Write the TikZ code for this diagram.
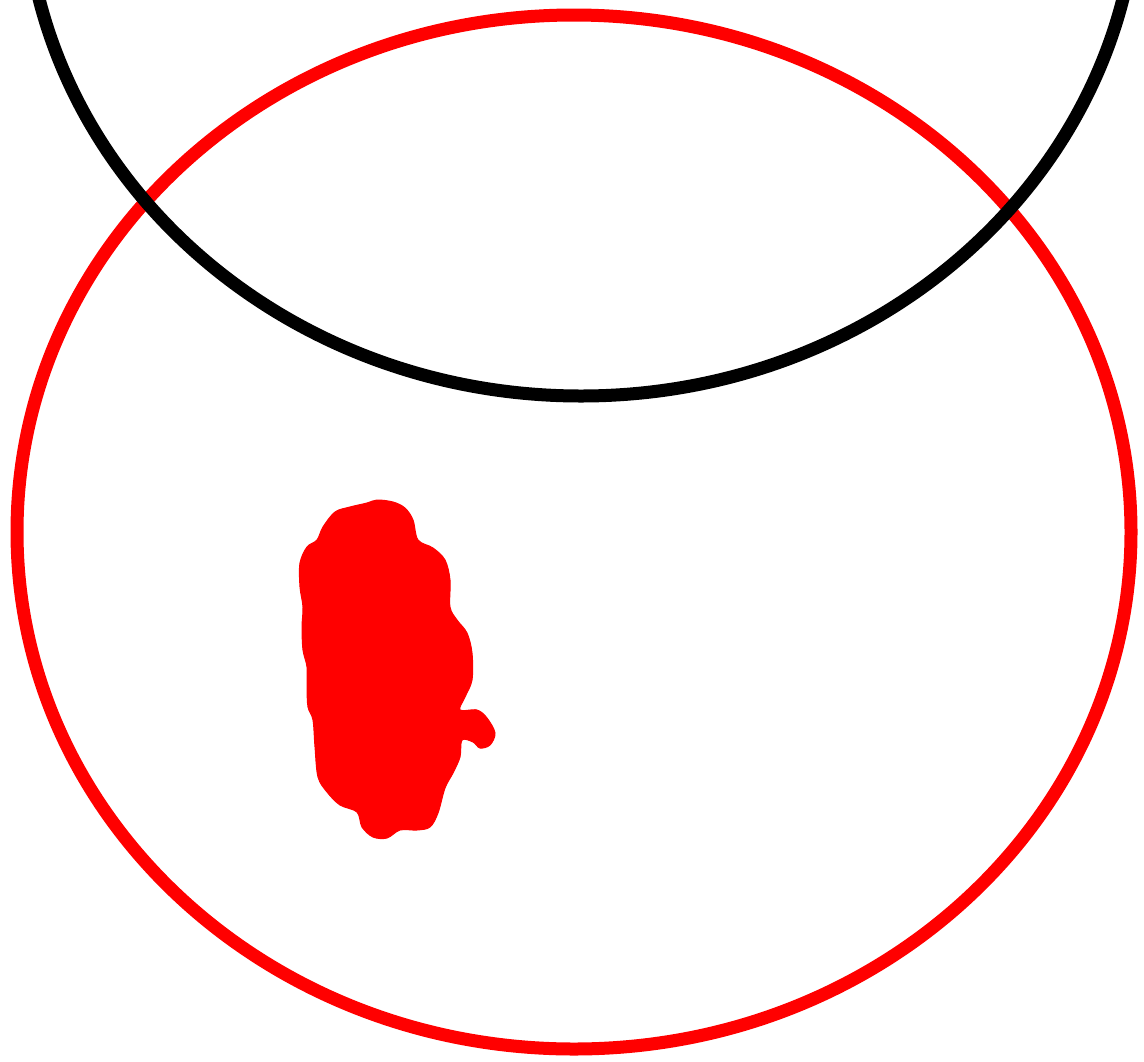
\documentclass[tikz,border=0pt]{standalone}
\begin{document}
\begin{tikzpicture}[x=1pt,y=-1pt,
  ring/.style={line width=13pt},
  blobfill/.style={fill=red,draw=red,line width=1pt}]
\useasboundingbox (0,0) rectangle (1144,1061);
\begin{scope}
\clip (0,0) rectangle (1144,1061);
\draw[ring,red] (574,532) ellipse [x radius=557, y radius=517];
\draw[ring,black] (581,-121) ellipse [x radius=557, y radius=517];
\end{scope}
\fill[blobfill] plot[smooth cycle, tension=0.55] coordinates {
(377,500) (393,502) (405,508) (413,520) (418,540) (433,548) (445,560)
(450,580) (450,607) (457,620) (467,633) (472,653) (472,680) (465,697)
(460,710) (477,710) (487,718) (495,733) (490,745) (480,748) (473,742)
(462,740) (460,757) (453,773) (445,788) (438,813) (430,827) (417,830)
(400,830) (387,838) (373,837) (362,827) (357,812) (340,805) (327,792)
(318,777) (315,747) (313,720) (308,707) (307,687) (307,667) (303,650)
(302,627) (303,607) (300,587) (300,563) (307,547) (317,540) (323,527)
(335,512) (350,507) (367,503)};
\end{tikzpicture}
\end{document}
